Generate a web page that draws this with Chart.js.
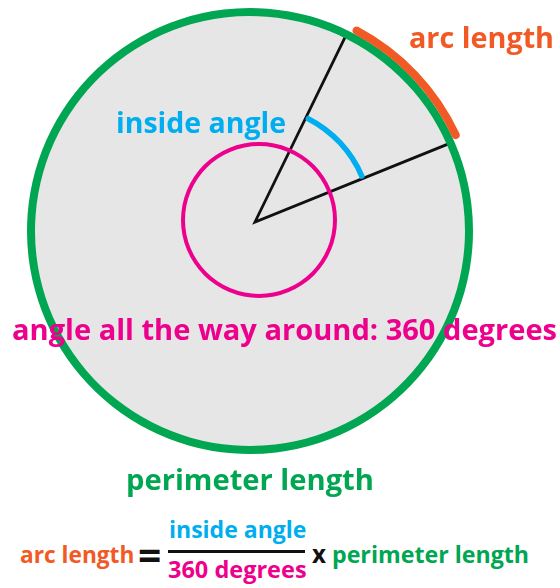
<!DOCTYPE html>
<html>
<head>
<meta charset="utf-8">
<script src="https://cdn.jsdelivr.net/npm/chart.js@4.4.1/dist/chart.umd.min.js"></script>
<style>
  html, body { margin: 0; padding: 0; background: #ffffff; }
  #stage { position: relative; width: 560px; height: 588px; overflow: hidden; background: #ffffff; }
  #stage canvas { position: absolute; }
  .lbl { position: absolute; white-space: nowrap; line-height: 1; font-weight: 700; font-family: "Open Sans", "Noto Sans", sans-serif; }
</style>
</head>
<body>
<div id="stage"></div>
<script>
// ---------------- data ----------------
const sliceNames   = ['inside angle', 'rest of the turn'];
const insideAngle  = [42, 318];     // degrees: the marked sector, the remainder
const arcSpan      = [39, 321];     // degrees covered by the orange arc (seen from the circle centre)
const fullTurn     = [360];         // angle all the way around
const sectorStart  = 26;            // degrees clockwise from 12 o'clock where the sector begins
const arcStart     = 27;

const textArcLength   = 'arc length';
const textInside      = 'inside angle';
const textFullAngle   = 'angle all the way around: 360 degrees';
const textPerimeter   = 'perimeter length';
const textDegrees     = '360 degrees';

// ---------------- colours ----------------
const GREEN = '#00a651', ORANGE = '#f15a24', BLUE = '#00aeef', PINK = '#ec008c',
      GREY = '#e6e6e6', BLACK = '#111111', NONE = 'rgba(0,0,0,0)';

const stage = document.getElementById('stage');

function layer(left, top, size) {
  const c = document.createElement('canvas');
  c.width = size; c.height = size;
  c.style.left = left + 'px'; c.style.top = top + 'px';
  c.style.width = size + 'px'; c.style.height = size + 'px';
  stage.appendChild(c);
  return c;
}

function baseOptions(extra) {
  return Object.assign({
    responsive: false,
    animation: false,
    events: [],
    layout: { padding: 0 },
    plugins: { legend: { display: false }, tooltip: { enabled: false }, title: { display: false } }
  }, extra);
}

// 1. grey disk
new Chart(layer(31, 12, 438), {
  type: 'pie',
  data: { labels: ['circle'], datasets: [{ data: fullTurn, backgroundColor: [GREY], borderWidth: 0 }] },
  options: baseOptions({})
});

// 2. the two radii (sector outline; its outer edge sits under the green rim)
new Chart(layer(43, 10, 424), {
  type: 'pie',
  data: { labels: sliceNames, datasets: [{
    data: insideAngle, backgroundColor: [NONE, NONE],
    borderColor: [BLACK, NONE], borderWidth: [2.8, 0], borderJoinStyle: 'miter'
  }] },
  options: baseOptions({ rotation: sectorStart })
});

// 3. pink full-turn ring
new Chart(layer(181, 142, 156), {
  type: 'doughnut',
  data: { labels: ['360 degrees'], datasets: [{ data: fullTurn, backgroundColor: [PINK], borderWidth: 0 }] },
  options: baseOptions({ cutout: 74 })
});

// 4. blue inside-angle arc
new Chart(layer(136, 103, 238), {
  type: 'doughnut',
  data: { labels: sliceNames, datasets: [{
    data: insideAngle, backgroundColor: [BLUE, NONE], borderWidth: 0, borderRadius: 2
  }] },
  options: baseOptions({ cutout: 113.5, rotation: sectorStart })
});

// 5. orange arc length (outer ring) + green perimeter (inner ring)
new Chart(layer(19, 0, 462), {
  type: 'doughnut',
  data: { labels: sliceNames, datasets: [
    { data: arcSpan, backgroundColor: [ORANGE, NONE], borderWidth: 0, borderRadius: 4, weight: 8 },
    { data: fullTurn, backgroundColor: [GREEN], borderWidth: 0, weight: 8 }
  ] },
  options: baseOptions({ cutout: 215, rotation: arcStart })
});

// ---------------- text ----------------
const mctx = document.createElement('canvas').getContext('2d');
function font(size) { return '700 ' + size + 'px "Open Sans", "Noto Sans", sans-serif'; }
function baselineOffset(size) {
  const d = document.createElement('div');
  d.className = 'lbl';
  d.style.font = font(size); d.style.lineHeight = '1'; d.style.visibility = 'hidden';
  d.innerHTML = 'x<span style="display:inline-block;width:1px;height:0;vertical-align:baseline"></span>';
  stage.appendChild(d);
  const off = d.lastChild.offsetTop;
  d.remove();
  return off;
}
// place text so that its ink spans [inkLeft, inkLeft+inkWidth] and sits on a baseline,
// or is centred vertically on cy when cy is given
function place(text, color, inkLeft, inkWidth, baseline, cy) {
  mctx.font = font(100);
  const m = mctx.measureText(text);
  const w100 = m.actualBoundingBoxLeft + m.actualBoundingBoxRight;
  const size = 100 * inkWidth / w100;
  mctx.font = font(size);
  const m2 = mctx.measureText(text);
  const originX = inkLeft + m2.actualBoundingBoxLeft;
  if (cy !== undefined) baseline = cy - (m2.actualBoundingBoxDescent - m2.actualBoundingBoxAscent) / 2;
  const d = document.createElement('div');
  d.className = 'lbl';
  d.textContent = text;
  d.style.font = font(size); d.style.lineHeight = '1';
  d.style.color = color;
  d.style.left = originX + 'px';
  d.style.top = (baseline - baselineOffset(size)) + 'px';
  stage.appendChild(d);
}

function drawTexts() {
  place(textArcLength, ORANGE, 410, 142, 48);
  place(textInside, BLUE, 118, 167, 133);
  place(textFullAngle, PINK, 13, 543, 340);
  place(textPerimeter, GREEN, 128, 244, 490);

  // formula
  place(textArcLength, ORANGE, 20, 112, 563);
  place('=', BLACK, 139, 20, 0, 555);
  const bar = document.createElement('div');
  bar.style.cssText = 'position:absolute;left:168px;top:550px;width:137px;height:3px;background:' + BLACK;
  stage.appendChild(bar);
  place(textInside, BLUE, 170, 135, 538);
  place(textDegrees, PINK, 168, 137, 578);
  place('x', BLACK, 312, 14, 0, 556);
  place(textPerimeter, GREEN, 333, 194, 563);
}
if (document.fonts && document.fonts.load) {
  document.fonts.load(font(20)).then(drawTexts, drawTexts);
} else { drawTexts(); }
</script>
</body>
</html>
